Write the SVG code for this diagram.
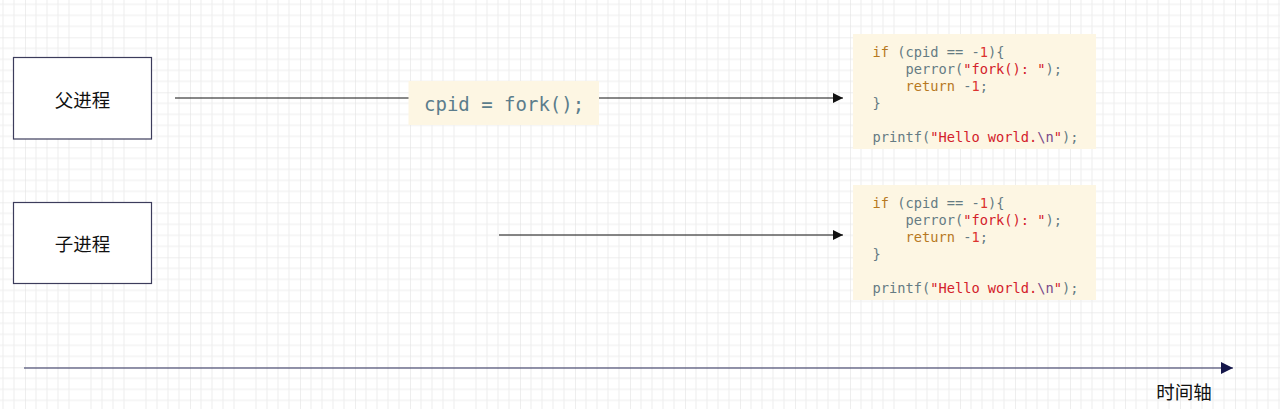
<svg xmlns="http://www.w3.org/2000/svg" width="1280" height="409" viewBox="0 0 1280 409">
  <defs>
    <pattern id="grid" x="25" y="37.3" width="55" height="55" patternUnits="userSpaceOnUse">
      <path d="M11 0V55M22 0V55M33 0V55M44 0V55M0 11H55M0 22H55M0 33H55M0 44H55" stroke="#ededed" stroke-width="1" fill="none"/>
      <path d="M0 0V55M0 0H55" stroke="#dedede" stroke-width="1" fill="none"/>
    </pattern>
    <marker id="arr" viewBox="0 0 10 10" refX="10" refY="5" markerWidth="10" markerHeight="11" markerUnits="userSpaceOnUse" orient="auto">
      <path d="M0 0L10 5L0 10Z" fill="#111"/>
    </marker>
    <marker id="arrAxis" viewBox="0 0 12 12" refX="12" refY="6" markerWidth="13" markerHeight="12" markerUnits="userSpaceOnUse" orient="auto">
      <path d="M0 0L12 6L0 12Z" fill="#14164a"/>
    </marker>
  </defs>
  <style>
    .proc { fill: #ffffff; stroke: #3c3c5c; stroke-width: 1.2; }
    .cjk { font-family: "Noto Sans CJK SC", "Noto Sans", sans-serif; font-size: 18.5px; fill: #111; }
    .codebg { fill: #fdf6e3; }
    .code { font-family: "DejaVu Sans Mono", "Liberation Mono", monospace; font-size: 13.7px; fill: #657b83; white-space: pre; }
    .kw { fill: #b7791f; }
    .num { fill: #dc322f; }
    .str { fill: #d3202a; }
    .esc { fill: #7a4a8a; }
    .conn { stroke: #111; stroke-width: 1; fill: none; }
  </style>
  <rect width="1280" height="409" fill="#ffffff"/>
  <rect width="1280" height="409" fill="url(#grid)"/>

  <g id="parent">
    <rect class="proc" x="13.5" y="57.5" width="138" height="81.5"/>
    <text class="cjk" x="82.5" y="106.5" text-anchor="middle">父进程</text>
  </g>
  <g id="child">
    <rect class="proc" x="13.5" y="202.5" width="138" height="81"/>
    <text class="cjk" x="82.5" y="250.5" text-anchor="middle">子进程</text>
  </g>

  <g id="connectors">
    <line class="conn" x1="175" y1="98" x2="843" y2="98" marker-end="url(#arr)"/>
    <line class="conn" x1="499" y1="235" x2="843" y2="235" marker-end="url(#arr)"/>
    <line x1="24" y1="368" x2="1233" y2="368" stroke="#2a2c5a" stroke-width="1.2" marker-end="url(#arrAxis)"/>
  </g>

  <g id="fork-label">
    <rect class="codebg" x="408.5" y="81" width="190.5" height="44"/>
    <text x="424" y="111" font-family="DejaVu Sans Mono, Liberation Mono, monospace" font-size="19" fill="#5b7d8c">cpid = fork();</text>
  </g>

  <g id="code-parent">
    <rect class="codebg" x="853" y="34" width="243" height="115"/>
    <text class="code" x="872.5" y="56.5"><tspan class="kw">if</tspan> (cpid == -<tspan class="num">1</tspan>){</text>
    <text class="code" x="872.5" y="73.5">    perror(<tspan class="str">"fork(): "</tspan>);</text>
    <text class="code" x="872.5" y="90.5">    <tspan class="kw">return</tspan> -<tspan class="num">1</tspan>;</text>
    <text class="code" x="872.5" y="107.5">}</text>
    <text class="code" x="872.5" y="141.5">printf(<tspan class="str">"Hello world.</tspan><tspan class="esc">\n</tspan><tspan class="str">"</tspan>);</text>
  </g>

  <g id="code-child">
    <rect class="codebg" x="853" y="185" width="243" height="115"/>
    <text class="code" x="872.5" y="207.5"><tspan class="kw">if</tspan> (cpid == -<tspan class="num">1</tspan>){</text>
    <text class="code" x="872.5" y="224.5">    perror(<tspan class="str">"fork(): "</tspan>);</text>
    <text class="code" x="872.5" y="241.5">    <tspan class="kw">return</tspan> -<tspan class="num">1</tspan>;</text>
    <text class="code" x="872.5" y="258.5">}</text>
    <text class="code" x="872.5" y="292.5">printf(<tspan class="str">"Hello world.</tspan><tspan class="esc">\n</tspan><tspan class="str">"</tspan>);</text>
  </g>

  <g id="axis-label">
    <text class="cjk" x="1184" y="398.5" text-anchor="middle">时间轴</text>
  </g>
</svg>
